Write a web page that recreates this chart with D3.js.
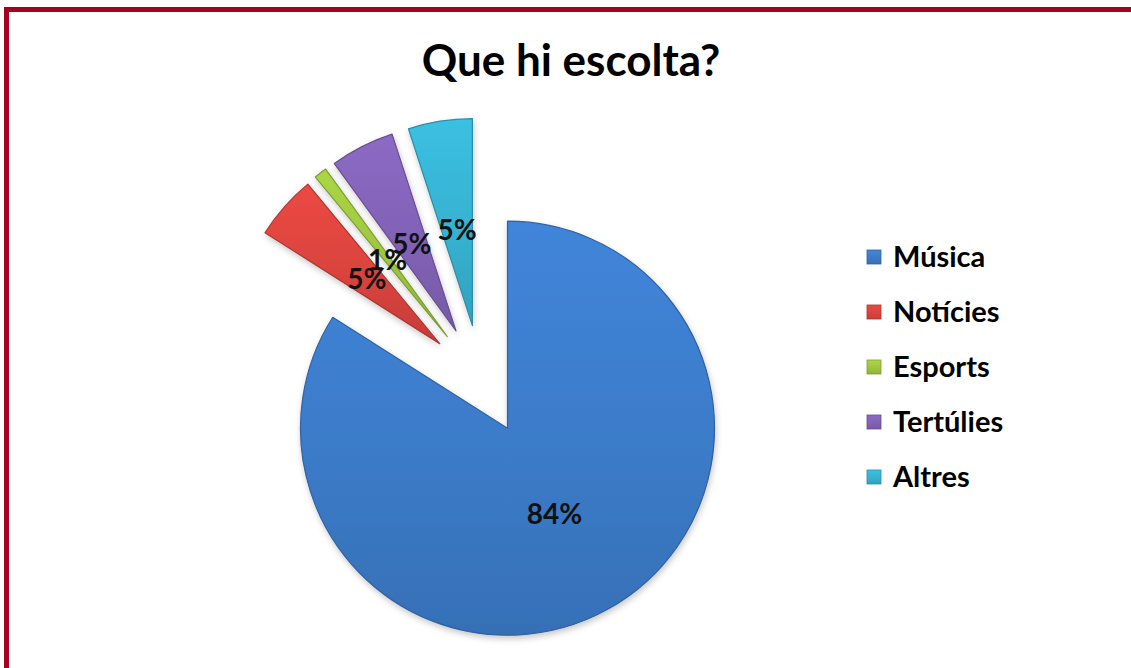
<!DOCTYPE html>
<html>
<head>
<meta charset="utf-8">
<script src="https://cdnjs.cloudflare.com/ajax/libs/d3/7.8.5/d3.min.js"></script>
<style>
  html, body { margin: 0; padding: 0; background: #ffffff; }
  svg { display: block; }
</style>
</head>
<body>
<svg id="chart" width="1131" height="668"></svg>
<script>
// ---- data ----
const title = "Que hi escolta?";
const categories = ["Música", "Notícies", "Esports", "Tertúlies", "Altres"];
const values = [84, 5, 1, 5, 5];
const labels = ["84%", "5%", "1%", "5%", "5%"];
const colors = ["#3b7ac7", "#d8433d", "#9cc43f", "#8061b4", "#36b0cf"];

// ---- layout ----
const W = 1131, H = 668;
const cx = 481, cy = 380;
const radius = 207;
const explode = 55;
const font = "Lato, 'Open Sans', sans-serif";

const svg = d3.select("#chart");
const defs = svg.append("defs");

// soft shadow
const f = defs.append("filter").attr("id", "shadow")
  .attr("x", "-20%").attr("y", "-20%").attr("width", "140%").attr("height", "140%");
f.append("feDropShadow").attr("dx", 1).attr("dy", 3).attr("stdDeviation", 3)
  .attr("flood-color", "#000").attr("flood-opacity", 0.22);

// gradients per colour
colors.forEach((c, i) => {
  const g = defs.append("linearGradient").attr("id", "grad" + i)
    .attr("x1", "0").attr("y1", "0").attr("x2", "0").attr("y2", "1");
  g.append("stop").attr("offset", "0%").attr("stop-color", d3.color(c).brighter(0.25));
  g.append("stop").attr("offset", "60%").attr("stop-color", c);
  g.append("stop").attr("offset", "100%").attr("stop-color", d3.color(c).darker(0.25));
});

// border
svg.append("rect").attr("x", 4).attr("y", 7).attr("width", W - 4).attr("height", 5).attr("fill", "#a50021");
svg.append("rect").attr("x", 4).attr("y", 7).attr("width", 5).attr("height", H - 7).attr("fill", "#a50021");

// title
svg.append("text")
  .attr("x", 571).attr("y", 76)
  .attr("text-anchor", "middle")
  .attr("font-family", font).attr("font-weight", 700).attr("font-size", 44)
  .attr("fill", "#000")
  .text(title);

// pie
const pie = d3.pie().sort(null).value(d => d.v).startAngle(0).endAngle(2 * Math.PI);
const data = pie(categories.map((c, i) => ({ c, v: values[i], i })));
const arc = d3.arc().innerRadius(0).outerRadius(radius);
const labelArc = d3.arc().innerRadius(radius * 0.94).outerRadius(0);

const g = svg.append("g").attr("transform", `translate(${cx},${cy})`);

function offset(d) {
  const m = (d.startAngle + d.endAngle) / 2;
  return [explode * Math.sin(m), -explode * Math.cos(m)];
}

g.selectAll("path.slice").data(data).enter().append("path")
  .attr("class", "slice")
  .attr("transform", d => { const o = offset(d); return `translate(${o[0]},${o[1]})`; })
  .attr("d", arc)
  .attr("fill", d => `url(#grad${d.data.i})`)
  .attr("stroke", d => d3.color(colors[d.data.i]).darker(0.6))
  .attr("stroke-width", 1.2)
  .attr("stroke-linejoin", "round")
  .attr("filter", "url(#shadow)");

g.selectAll("text.lbl").data(data).enter().append("text")
  .attr("class", "lbl")
  .attr("transform", d => {
    const o = offset(d);
    const c = labelArc.centroid(d);
    return `translate(${c[0] + o[0]},${c[1] + o[1]})`;
  })
  .attr("text-anchor", "middle")
  .attr("dy", "0.36em")
  .attr("font-family", font).attr("font-weight", 700).attr("font-size", 28)
  .attr("fill", "#111")
  .text((d, i) => labels[i]);

// legend
const legend = svg.append("g");
const rowY = d3.scalePoint().domain(categories).range([257, 477]);
const items = legend.selectAll("g").data(categories).enter().append("g")
  .attr("transform", d => `translate(867,${rowY(d)})`);
items.append("rect")
  .attr("x", 0).attr("y", -7).attr("width", 14).attr("height", 14)
  .attr("fill", (d, i) => `url(#grad${i})`)
  .attr("stroke", (d, i) => d3.color(colors[i]).darker(0.6))
  .attr("stroke-width", 0.8);
items.append("text")
  .attr("x", 26).attr("y", 0).attr("dy", "0.36em")
  .attr("font-family", font).attr("font-weight", 700).attr("font-size", 29)
  .attr("fill", "#000")
  .text(d => d);
</script>
</body>
</html>
